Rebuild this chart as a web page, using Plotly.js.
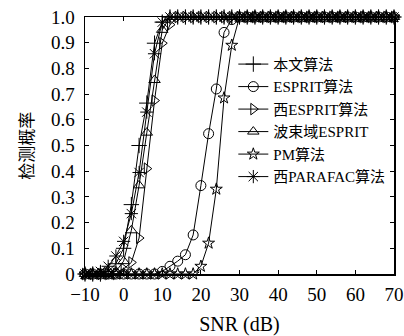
<!DOCTYPE html>
<html>
<head>
<meta charset="utf-8">
<script src="https://cdn.plot.ly/plotly-3.0.1.min.js"></script>
<style>html,body{margin:0;padding:0;background:#fff;}#chart{width:404px;height:336px;}</style>
</head>
<body>
<div id="chart"></div>
<script>
// SNR (dB) grid
const snr = [-10,-8,-6,-4,-2,0,2,4,6,8,10,12,14,16,18,20,22,24,26,28,30,32,34,36,38,40,42,44,46,48,50,52,54,56,58,60,62,64,66,68,70];

// Detection probability per method
const benwen   = [0,0,0,0.01,0.04,0.10,0.27,0.50,0.665,0.898,0.98,1,1,1,1,1,1,1,1,1,1,1,1,1,1,1,1,1,1,1,1,1,1,1,1,1,1,1,1,1,1];
const esprit   = [0,0,0,0,0,0,0,0,0,0,0.01,0.03,0.05,0.075,0.152,0.344,0.546,0.72,0.94,0.99,1,1,1,1,1,1,1,1,1,1,1,1,1,1,1,1,1,1,1,1,1];
const xiEsprit = [0,0,0,0,0,0.02,0.045,0.14,0.41,0.675,0.898,0.97,1,1,1,1,1,1,1,1,1,1,1,1,1,1,1,1,1,1,1,1,1,1,1,1,1,1,1,1,1];
const beamEsprit = [0,0,0,0,0.01,0.05,0.17,0.345,0.55,0.755,0.95,1,1,1,1,1,1,1,1,1,1,1,1,1,1,1,1,1,1,1,1,1,1,1,1,1,1,1,1,1,1];
const pm       = [0,0,0,0,0,0,0,0,0,0,0,0,0,0,0,0.03,0.12,0.33,0.685,0.89,1,1,1,1,1,1,1,1,1,1,1,1,1,1,1,1,1,1,1,1,1];
const xiParafac = [0,0,0.01,0.03,0.07,0.127,0.235,0.395,0.63,0.857,0.98,1,1,1,1,1,1,1,1,1,1,1,1,1,1,1,1,1,1,1,1,1,1,1,1,1,1,1,1,1,1];

const names = ['本文算法','ESPRIT算法','西ESPRIT算法','波束域ESPRIT','PM算法','西PARAFAC算法'];
const yTitle = '检测概率';
const xTitle = 'SNR (dB)';
const series = [benwen, esprit, xiEsprit, beamEsprit, pm, xiParafac];
const symbols = ['cross-thin-open','circle-open','triangle-right-open','triangle-up-open','star-open','asterisk-open'];
const sizes = [11,10,10,10,9,11];

const traces = series.map((y,i)=>({
  x: snr, y: y, name: names[i], type:'scatter', mode:'lines+markers',
  line:{color:'#000', width:1},
  marker:{symbol:symbols[i], size:sizes[i], color:'#000', line:{color:'#000', width:1}},
  cliponaxis:false
}));

const fontFam = '"Liberation Serif", "Noto Sans CJK SC", serif';
const layout = {
  width:404, height:336,
  margin:{l:85, r:10, t:17, b:62},
  paper_bgcolor:'#fff', plot_bgcolor:'#fff',
  font:{family:fontFam, size:19, color:'#000'},
  showlegend:true,
  legend:{x:0.48, y:0.88, xanchor:'left', yanchor:'top', bgcolor:'rgba(0,0,0,0)',
          font:{family:fontFam, size:15}, tracegroupgap:0, itemwidth:30},
  xaxis:{range:[-10,70], tickvals:[-10,0,10,20,30,40,50,60,70], ticktext:['−10','0','10','20','30','40','50','60','70'],
         ticks:'inside', ticklen:4, tickcolor:'#000', showline:true, linecolor:'#000', linewidth:1.5, mirror:'ticks',
         showgrid:false, zeroline:false, ticklabelstandoff:3, automargin:false,
         title:{text:xTitle, font:{family:fontFam, size:20}, standoff:29}},
  yaxis:{range:[0,1], tickvals:[0,0.1,0.2,0.3,0.4,0.5,0.6,0.7,0.8,0.9,1.0],
         ticktext:['0','0.1','0.2','0.3','0.4','0.5','0.6','0.7','0.8','0.9','1.0'],
         ticks:'inside', ticklen:4, tickcolor:'#000', showline:true, linecolor:'#000', linewidth:1.5, mirror:'ticks',
         showgrid:false, zeroline:false, ticklabelstandoff:5, automargin:false},
  annotations:[{text:yTitle, xref:'paper', yref:'paper', x:-0.187, y:0.5, xanchor:'center', yanchor:'middle',
                textangle:-90, showarrow:false, font:{family:fontFam, size:17, color:'#000'}}]
};
Plotly.newPlot('chart', traces, layout, {displayModeBar:false, staticPlot:true});
</script>
</body>
</html>
